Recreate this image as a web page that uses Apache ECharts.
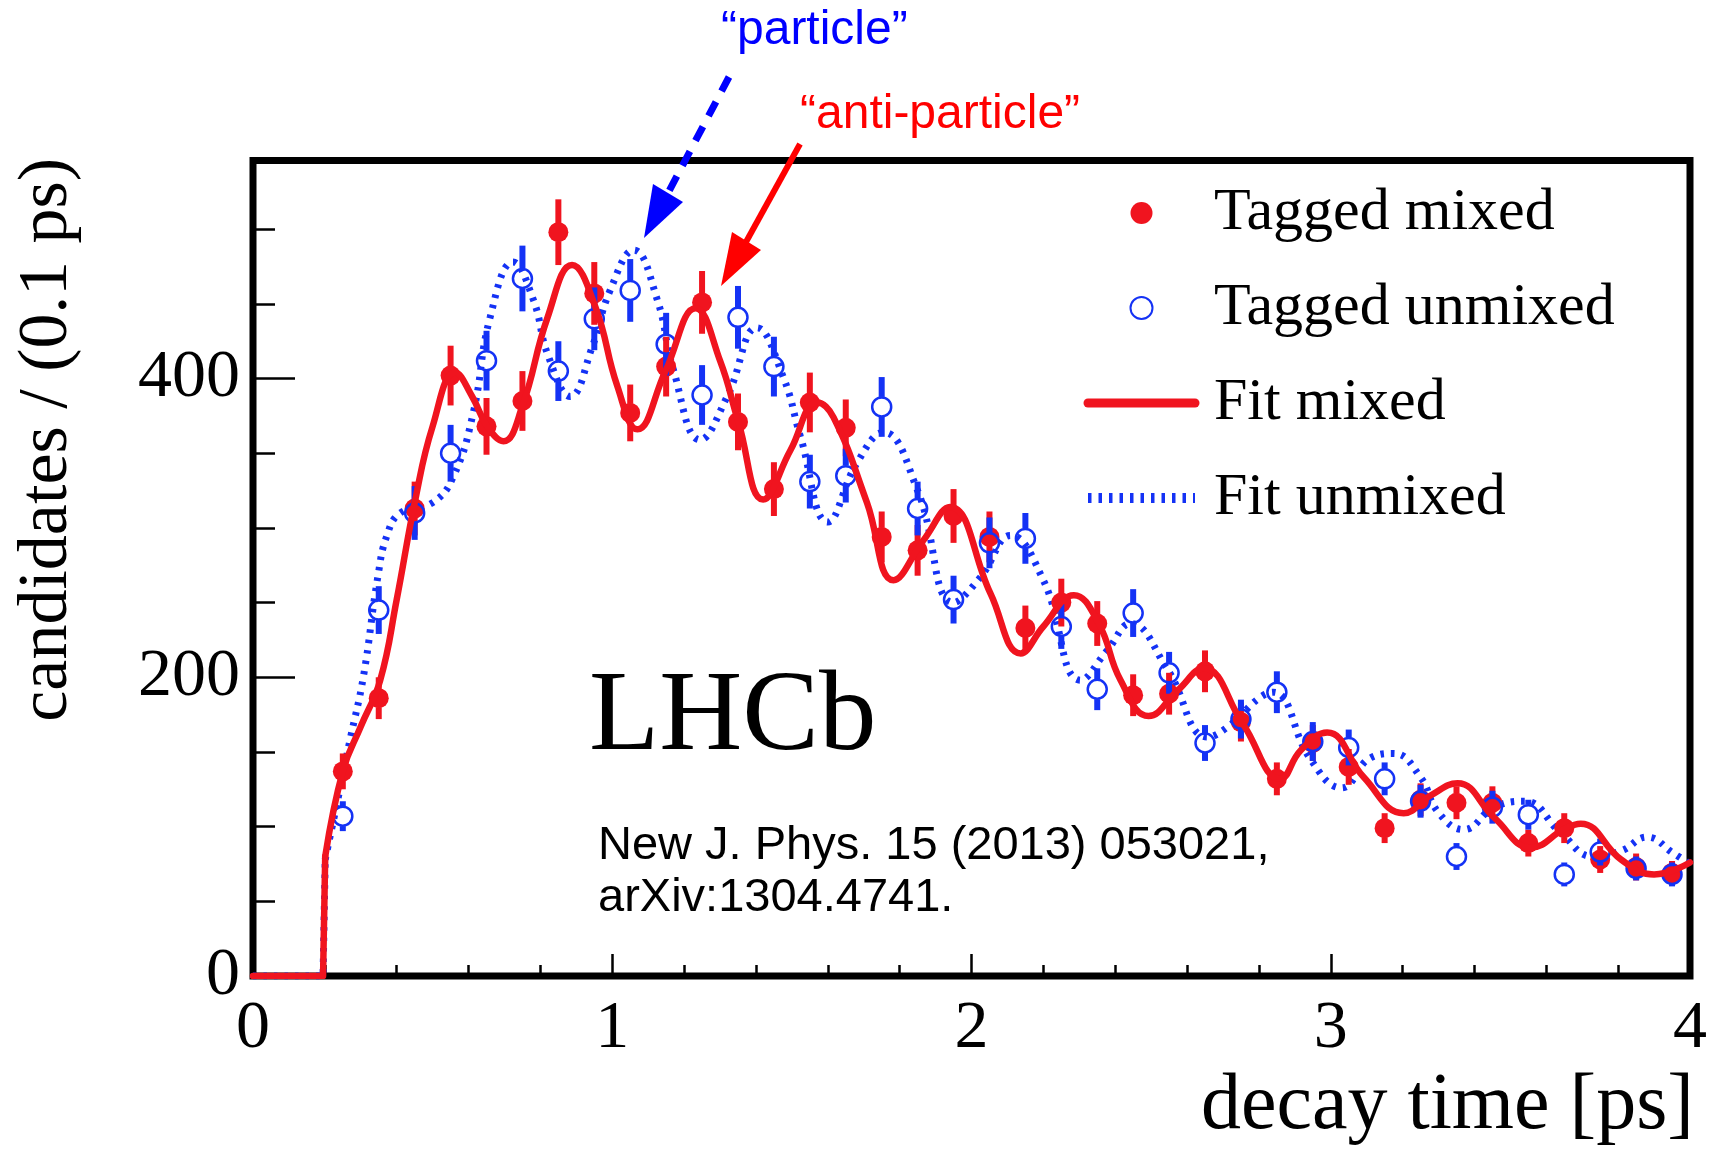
<!DOCTYPE html>
<html>
<head>
<meta charset="utf-8">
<title>LHCb decay time</title>
<script src="https://cdn.jsdelivr.net/npm/echarts@6/dist/echarts.min.js"></script>
<style>
  html, body { margin: 0; padding: 0; background: #ffffff; }
  #chart { width: 1710px; height: 1149px; }
</style>
</head>
<body>
<div id="chart"></div>
<script>
// Bin centres of the 0.1 ps decay-time bins
const binCenters = [0.25, 0.35, 0.45, 0.55, 0.65, 0.75, 0.85, 0.95, 1.05, 1.15,
                    1.25, 1.35, 1.45, 1.55, 1.65, 1.75, 1.85, 1.95, 2.05, 2.15,
                    2.25, 2.35, 2.45, 2.55, 2.65, 2.75, 2.85, 2.95, 3.05, 3.15,
                    3.25, 3.35, 3.45, 3.55, 3.65, 3.75, 3.85, 3.95];

// Tagged mixed candidates per bin and their uncertainties
const mixedCounts = [137, 186, 313, 402, 368, 385, 498, 457, 377, 408,
                     451, 371, 326, 384, 367, 294, 285, 308, 294, 233,
                     250, 236, 188, 189, 204, 170, 132, 156, 140, 99,
                     118, 116, 116, 89, 99, 78, 73, 69];
const mixedErrors = [12, 14, 18, 20, 19, 20, 22, 21, 19, 20,
                     21, 19, 18, 20, 19, 17, 17, 18, 17, 15,
                     16, 15, 14, 14, 14, 13, 11, 12, 12, 10,
                     11, 11, 11, 9, 10, 9, 9, 8];

// Tagged unmixed candidates per bin and their uncertainties
const unmixedCounts = [107, 245, 310, 350, 412, 467, 405, 440, 459, 423,
                       389, 441, 408, 331, 335, 381, 313, 252, 290, 293,
                       234, 192, 243, 203, 156, 172, 190, 157, 153, 132,
                       117, 80, 113, 108, 68, 83, 72, 68];
const unmixedErrors = [10, 16, 18, 19, 20, 22, 20, 21, 21, 21,
                       20, 21, 20, 18, 18, 20, 18, 16, 17, 17,
                       15, 14, 16, 14, 12, 13, 14, 13, 12, 11,
                       11, 9, 11, 10, 8, 9, 8, 8];

// Fit projections, [decay time, candidates]: step at the acceptance edge ...
const fitMixedRise = [[0, 0], [0.195, 0], [0.201, 80]];
const fitUnmixedRise = [[0, 0], [0.195, 0], [0.201, 78]];

// ... and the oscillating part after it
const fitMixed = [[0.201, 80], [0.251, 138], [0.3, 167], [0.354, 198],
  [0.40, 252], [0.451, 318], [0.50, 368], [0.563, 404], [0.61, 388], [0.652, 368],
  [0.697, 358], [0.749, 381], [0.82, 441], [0.888, 476], [0.953, 448], [1.014, 395],
  [1.07, 366], [1.148, 405], [1.232, 447], [1.30, 412], [1.351, 371], [1.42, 319],
  [1.496, 352], [1.571, 384], [1.616, 374], [1.709, 317], [1.783, 265], [1.867, 292],
  [1.94, 314], [2.053, 256], [2.137, 216], [2.2, 234], [2.285, 255],
  [2.354, 236], [2.415, 198], [2.493, 174], [2.573, 191], [2.646, 206], [2.755, 169],
  [2.86, 132], [2.916, 151], [2.99, 163], [3.092, 133], [3.203, 109], [3.279, 121],
  [3.353, 129], [3.455, 106], [3.557, 86], [3.654, 99], [3.696, 102], [3.808, 78],
  [3.90, 68], [4.0, 76]];

const fitUnmixed = [[0.201, 78], [0.242, 125], [0.27, 158], [0.307, 200],
  [0.348, 268], [0.373, 295], [0.41, 310], [0.50, 317], [0.557, 334], [0.613, 377],
  [0.66, 441], [0.724, 478], [0.78, 453], [0.822, 415], [0.883, 388], [0.944, 421],
  [0.994, 459], [1.06, 486], [1.125, 453], [1.17, 406], [1.245, 359], [1.32, 388],
  [1.403, 434], [1.476, 401], [1.524, 361], [1.6, 304], [1.68, 343], [1.755, 364],
  [1.85, 325], [1.95, 250], [2.025, 267], [2.109, 295], [2.2, 265], [2.304, 198],
  [2.378, 218], [2.443, 236], [2.546, 205], [2.657, 160], [2.72, 168], [2.80, 186],
  [2.84, 190], [2.944, 145], [3.03, 126], [3.11, 146], [3.175, 149], [3.25, 133],
  [3.298, 110], [3.37, 98], [3.455, 113], [3.54, 117], [3.64, 96], [3.73, 80],
  [3.81, 84], [3.88, 93], [3.955, 82], [4.0, 75]];

const RED = '#f0141f';
const BLUE = '#1432f5';
const SERIF = "'Liberation Serif', 'Times New Roman', Times, serif";
const SANS = "'Liberation Sans', Arial, Helvetica, sans-serif";

const mixedPoints = binCenters.map((t, i) => [t, mixedCounts[i], mixedErrors[i]]);
const unmixedPoints = binCenters.map((t, i) => [t, unmixedCounts[i], unmixedErrors[i]]);

// vertical error bar, left open where the marker sits
function errorBars(color, gap) {
  return function (params, api) {
    const t = api.value(0), v = api.value(1), e = api.value(2);
    const c = api.coord([t, v]);
    const hi = api.coord([t, v + e]);
    const lo = api.coord([t, v - e]);
    const kids = [];
    if (c[1] - gap > hi[1]) {
      kids.push({ type: 'line', shape: { x1: c[0], y1: hi[1], x2: c[0], y2: c[1] - gap },
                  style: { stroke: color, lineWidth: 6 } });
    }
    if (lo[1] > c[1] + gap) {
      kids.push({ type: 'line', shape: { x1: c[0], y1: c[1] + gap, x2: c[0], y2: lo[1] },
                  style: { stroke: color, lineWidth: 6 } });
    }
    return { type: 'group', children: kids };
  };
}

const tickStyle = { color: '#000', width: 2.5 };
const mixedLine = { color: RED, width: 6.5, cap: 'round', join: 'round' };
const unmixedLine = { color: BLUE, width: 7, type: [3.5, 7], cap: 'butt' };

const chart = echarts.init(document.getElementById('chart'), null, { renderer: 'canvas' });
chart.setOption({
  animation: false,
  backgroundColor: '#ffffff',
  grid: {
    left: 253, right: 19, top: 160.5, bottom: 173,
    show: true, borderColor: '#000', borderWidth: 7, backgroundColor: 'transparent'
  },
  xAxis: {
    type: 'value', min: 0, max: 4, interval: 1,
    axisLine: { show: false },
    axisTick: { inside: true, length: 22, lineStyle: tickStyle },
    minorTick: { show: true, splitNumber: 5, length: 11, lineStyle: tickStyle },
    splitLine: { show: false },
    minorSplitLine: { show: false },
    axisLabel: { margin: 19, color: '#000', fontFamily: SERIF, fontSize: 68 }
  },
  yAxis: [{
    type: 'value', min: 0, max: 546, interval: 200,
    axisLine: { show: false },
    axisTick: { inside: true, length: 42, lineStyle: tickStyle },
    splitLine: { show: false },
    axisLabel: { margin: 13, color: '#000', fontFamily: SERIF, fontSize: 68, showMaxLabel: false }
  }, {
    type: 'value', min: 0, max: 546, interval: 50, position: 'left', offset: 0,
    axisLine: { show: false },
    axisTick: { inside: true, length: 22, lineStyle: tickStyle },
    splitLine: { show: false },
    axisLabel: { show: false }
  }],
  legend: {
    orient: 'vertical',
    left: 1083, top: 183,
    padding: 0,
    itemGap: 35,
    itemWidth: 107, itemHeight: 22,
    data: [
      { name: 'Tagged mixed' },
      { name: 'Tagged unmixed' },
      { name: 'Fit mixed', itemStyle: { opacity: 0 }, lineStyle: { width: 9, color: RED } },
      { name: 'Fit unmixed', itemStyle: { opacity: 0 }, lineStyle: { width: 10, color: BLUE, type: [3.5, 7] } }
    ],
    textStyle: { color: '#000', fontFamily: SERIF, fontSize: 60, lineHeight: 60, padding: [0, 0, 0, 14] },
    selectedMode: false
  },
  series: [{
    name: 'Fit unmixed',
    type: 'line',
    data: fitUnmixedRise,
    showSymbol: false,
    symbol: 'none',
    lineStyle: unmixedLine,
    z: 2
  }, {
    name: 'Fit unmixed',
    type: 'line',
    data: fitUnmixed,
    smooth: 0.45,
    showSymbol: false,
    symbol: 'none',
    lineStyle: unmixedLine,
    z: 2
  }, {
    name: 'err mixed',
    type: 'custom',
    data: mixedPoints,
    encode: { x: 0, y: 1 },
    renderItem: errorBars(RED, 9),
    z: 3
  }, {
    name: 'Tagged mixed',
    type: 'scatter',
    data: mixedPoints.map(p => [p[0], p[1]]),
    symbol: 'circle',
    symbolSize: 20,
    itemStyle: { color: RED, opacity: 1 },
    z: 3
  }, {
    name: 'err unmixed',
    type: 'custom',
    data: unmixedPoints,
    encode: { x: 0, y: 1 },
    renderItem: errorBars(BLUE, 10),
    z: 4
  }, {
    name: 'Tagged unmixed',
    type: 'scatter',
    data: unmixedPoints.map(p => [p[0], p[1]]),
    symbol: 'circle',
    symbolSize: 19,
    itemStyle: { color: 'rgba(255,255,255,0)', borderColor: BLUE, borderWidth: 2.5, opacity: 1 },
    z: 4
  }, {
    name: 'Fit mixed',
    type: 'line',
    data: fitMixedRise,
    showSymbol: false,
    symbol: 'none',
    lineStyle: mixedLine,
    itemStyle: { color: RED },
    z: 5
  }, {
    name: 'Fit mixed',
    type: 'line',
    data: fitMixed,
    smooth: 0.45,
    showSymbol: false,
    symbol: 'none',
    lineStyle: mixedLine,
    itemStyle: { color: RED },
    z: 5
  }],
  graphic: [
    // experiment label and reference
    { type: 'text', x: 589, y: 719, z: 10,
      style: { text: 'LHCb', font: "115px " + SERIF, fill: '#000',
               align: 'left', verticalAlign: 'middle', textAlign: 'left', textVerticalAlign: 'middle' } },
    { type: 'text', x: 598, y: 846, z: 10,
      style: { text: 'New J. Phys. 15 (2013) 053021,', font: "47px " + SANS, fill: '#000',
               align: 'left', verticalAlign: 'middle', textAlign: 'left', textVerticalAlign: 'middle' } },
    { type: 'text', x: 598, y: 898, z: 10,
      style: { text: 'arXiv:1304.4741.', font: "47px " + SANS, fill: '#000',
               align: 'left', verticalAlign: 'middle', textAlign: 'left', textVerticalAlign: 'middle' } },
    // axis titles
    { type: 'text', x: 1694, y: 1107, z: 10,
      style: { text: 'decay time [ps]', font: "80px " + SERIF, fill: '#000',
               align: 'right', verticalAlign: 'middle', textAlign: 'right', textVerticalAlign: 'middle' } },
    { type: 'text', x: 48, y: 158, rotation: Math.PI / 2, z: 10,
      style: { text: 'candidates / (0.1 ps)', font: "70px " + SERIF, fill: '#000',
               align: 'right', verticalAlign: 'middle', textAlign: 'right', textVerticalAlign: 'middle' } },
    // "particle" annotation with dashed arrow
    { type: 'text', x: 721, y: 31, z: 10,
      style: { text: '\u201Cparticle\u201D', font: "48px " + SANS, fill: '#0000ff',
               align: 'left', verticalAlign: 'middle', textAlign: 'left', textVerticalAlign: 'middle' } },
    { type: 'line', z: 10,
      shape: { x1: 729, y1: 77, x2: 668, y2: 193 },
      style: { stroke: '#0000ff', lineWidth: 7, lineDash: [16, 12] } },
    { type: 'polygon', z: 10,
      shape: { points: [[644, 238], [653, 184], [683, 202]] },
      style: { fill: '#0000ff' } },
    // "anti-particle" annotation with solid arrow
    { type: 'text', x: 800, y: 115, z: 10,
      style: { text: '\u201Canti-particle\u201D', font: "48px " + SANS, fill: '#ff0000',
               align: 'left', verticalAlign: 'middle', textAlign: 'left', textVerticalAlign: 'middle' } },
    { type: 'line', z: 10,
      shape: { x1: 800, y1: 144, x2: 746, y2: 242 },
      style: { stroke: '#ff0000', lineWidth: 6 } },
    { type: 'polygon', z: 10,
      shape: { points: [[721, 286], [732, 232], [761, 250]] },
      style: { fill: '#ff0000' } }
  ]
});
</script>
</body>
</html>
